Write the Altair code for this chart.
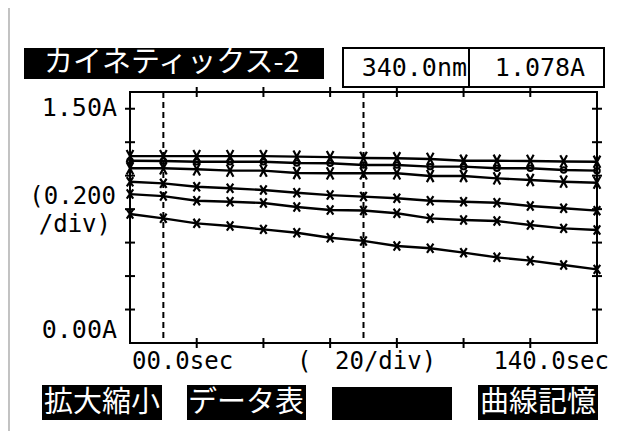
import altair as alt
import pandas as pd

# ---- data ----
times = [0, 10, 20, 30, 40, 50, 60, 70, 80, 90, 100, 110, 120, 130, 140]
series_a = [1.117, 1.117, 1.117, 1.117, 1.117, 1.114, 1.111, 1.106, 1.104, 1.100, 1.089, 1.089, 1.088, 1.085, 1.083]
series_b = [1.089, 1.088, 1.083, 1.083, 1.083, 1.076, 1.074, 1.064, 1.064, 1.054, 1.054, 1.044, 1.044, 1.034, 1.030]
series_c = [1.044, 1.044, 1.038, 1.030, 1.030, 1.016, 1.014, 1.014, 1.014, 0.998, 0.998, 0.984, 0.974, 0.964, 0.958]
series_d = [0.964, 0.954, 0.934, 0.925, 0.914, 0.898, 0.884, 0.875, 0.865, 0.850, 0.844, 0.838, 0.819, 0.805, 0.791]
series_e = [0.890, 0.878, 0.850, 0.844, 0.837, 0.813, 0.795, 0.792, 0.775, 0.745, 0.735, 0.729, 0.705, 0.685, 0.675]
series_f = [0.771, 0.745, 0.715, 0.699, 0.679, 0.659, 0.629, 0.610, 0.580, 0.566, 0.540, 0.512, 0.492, 0.466, 0.440]
series_names = ["A", "B", "C", "D", "E", "F"]

cursor_times = [10, 70]
x_ticks = [20, 40, 60, 80, 100, 120]
y_ticks = [0.2, 0.4, 0.6, 0.8, 1.0, 1.2, 1.4]

title_text = "カイネティックス-2"
readout = ["340.0nm", "1.078A"]
y_labels = ["1.50A", "(0.200", "/div)", "0.00A"]
x_labels = ["00.0sec", "(", "20/div)", "140.0sec"]
buttons = ["拡大縮小", "データ表", "", "曲線記憶"]

# ---- build tables ----
rows = []
for name, vals in zip(series_names, [series_a, series_b, series_c, series_d, series_e, series_f]):
    for t, v in zip(times, vals):
        rows.append({"series": name, "time": t, "abs": v})
df = pd.DataFrame(rows)
df_top = df[df["series"].isin(["A", "C"])]
df_mid = df[df["series"] == "B"]
df_low = df[df["series"].isin(["D", "E", "F"])]

W, H = 467, 251
xs = alt.Scale(domain=[0, 140], nice=False, zero=False)
ys = alt.Scale(domain=[0, 1.5], nice=False, zero=False)

MONO = "DejaVu Sans Mono"
CJK = "Noto Sans CJK JP"

X_PATH = "M-0.7,-1L0.7,1M-0.7,1L0.7,-1"
XT_PATH = "M-0.55,-1L0.55,1M-0.55,1L0.55,-1"

enc = dict(x=alt.X("time:Q", scale=xs, axis=None), y=alt.Y("abs:Q", scale=ys, axis=None))

lines = alt.Chart(df).mark_line(color="black", strokeWidth=2.4).encode(detail="series:N", **enc)
pts_low = alt.Chart(df_low).mark_point(shape=X_PATH, color="black", strokeWidth=2.2,
                                       filled=False, size=85, opacity=1).encode(**enc)
pts_top = alt.Chart(df_top).mark_point(shape=XT_PATH, color="black", strokeWidth=2.2,
                                       filled=False, size=150, opacity=1).encode(**enc)
pts_mid = alt.Chart(df_mid).mark_point(shape="circle", color="black", strokeWidth=2,
                                       filled=False, size=30, opacity=1).encode(**enc)

cursors = alt.Chart(pd.DataFrame({"t": cursor_times})).mark_rule(
    color="black", strokeWidth=2, strokeDash=[6, 4]).encode(
    x=alt.X("t:Q", scale=xs, axis=None), y=alt.value(0), y2=alt.value(H))

ydf = pd.DataFrame({"v": y_ticks})
xdf = pd.DataFrame({"t": x_ticks})
tick_l = alt.Chart(ydf).mark_rule(color="black", strokeWidth=2).encode(
    y=alt.Y("v:Q", scale=ys, axis=None), x=alt.value(-5), x2=alt.value(5))
tick_r = alt.Chart(ydf).mark_rule(color="black", strokeWidth=2).encode(
    y=alt.Y("v:Q", scale=ys, axis=None), x=alt.value(W - 5), x2=alt.value(W + 5))
tick_t = alt.Chart(xdf).mark_rule(color="black", strokeWidth=2).encode(
    x=alt.X("t:Q", scale=xs, axis=None), y=alt.value(-5), y2=alt.value(5))
tick_b = alt.Chart(xdf).mark_rule(color="black", strokeWidth=2).encode(
    x=alt.X("t:Q", scale=xs, axis=None), y=alt.value(H - 5), y2=alt.value(H + 5))

one = pd.DataFrame({"k": [0]})


def box(x1, x2, y1, y2, fill="black", stroke=None, sw=0):
    kw = dict(fill=fill)
    if stroke is not None:
        kw.update(stroke=stroke, strokeWidth=sw)
    return alt.Chart(one).mark_rect(**kw).encode(
        x=alt.value(x1), x2=alt.value(x2), y=alt.value(y1), y2=alt.value(y2))


def label(txt, x, y, align="left", font=MONO, size=23, color="black"):
    return alt.Chart(pd.DataFrame({"txt": [txt]})).mark_text(
        font=font, fontSize=size, align=align, baseline="middle", color=color).encode(
        x=alt.value(x), y=alt.value(y), text="txt:N")


layers = [
    # left border line of the screen photo
    alt.Chart(one).mark_rule(color="#9a9a9a", strokeWidth=1.2).encode(
        x=alt.value(-121), y=alt.value(-92), y2=alt.value(350)),
    cursors, tick_l, tick_r, tick_t, tick_b, lines, pts_low, pts_top, pts_mid,
    # title bar
    box(-106, 194, -44, -13),
    label(title_text, -86, -29, font=CJK, size=29, color="white"),
    # readout boxes
    box(213, 474, -44, -5, fill="white", stroke="black", sw=2),
    alt.Chart(one).mark_rule(color="black", strokeWidth=2).encode(
        x=alt.value(339), y=alt.value(-44), y2=alt.value(-5)),
    label(readout[0], 337, -24, align="right", size=25),
    label(readout[1], 410, -24, align="center", size=25),
    # y labels
    label(y_labels[0], -13, 16, align="right", size=25),
    label(y_labels[1], -14, 105, align="right", size=24),
    label(y_labels[2], -19, 133, align="right", size=24),
    label(y_labels[3], -13, 238, align="right", size=25),
    # x labels
    label(x_labels[0], 2, 270, align="left", size=24),
    label(x_labels[1], 167, 270, align="left", size=24),
    label(x_labels[2], 205, 270, align="left", size=24),
    label(x_labels[3], 479, 270, align="right", size=24),
    # buttons
    box(-88, 32, 293, 328), box(57, 176, 293, 328), box(202, 322, 295, 328), box(348, 468, 293, 328),
    label(buttons[0], -28, 311, align="center", font=CJK, size=29, color="white"),
    label(buttons[1], 116, 311, align="center", font=CJK, size=29, color="white"),
    label(buttons[3], 408, 311, align="center", font=CJK, size=29, color="white"),
]

chart = alt.layer(*layers).properties(
    width=W, height=H,
    autosize=alt.AutoSizeParams(type="none"),
    padding={"left": 122, "top": 84, "right": 14, "bottom": 88},
    background="white",
).configure_view(stroke="black", strokeWidth=2)

chart.save("out.html", embed_options={"renderer": "svg", "actions": False})
